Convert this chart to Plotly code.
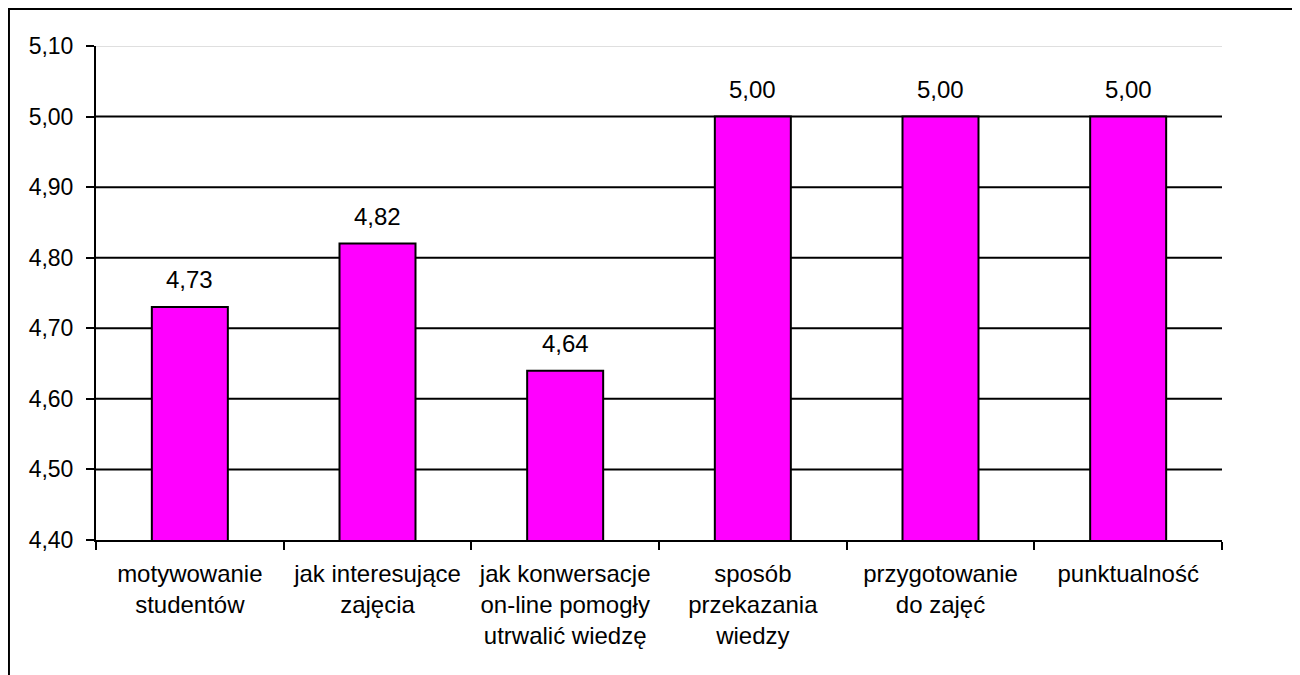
import plotly.graph_objects as go

categories = [
    "motywowanie<br>studentów",
    "jak interesujące<br>zajęcia",
    "jak konwersacje<br>on-line pomogły<br>utrwalić wiedzę",
    "sposób<br>przekazania<br>wiedzy",
    "przygotowanie<br>do zajęć",
    "punktualność",
]
values = [4.73, 4.82, 4.64, 5.00, 5.00, 5.00]
y_ticks = [4.40, 4.50, 4.60, 4.70, 4.80, 4.90, 5.00, 5.10]

FONT = "Liberation Sans, Arial, sans-serif"
FS = 24

fig = go.Figure()
fig.add_trace(go.Bar(
    x=categories,
    y=values,
    marker=dict(color="#FF00FF", line=dict(color="black", width=2)),
    width=0.405,
    hoverinfo="skip",
))

annotations = []
for c, v in zip(categories, values):
    annotations.append(dict(
        x=c, y=v, xref="x", yref="y",
        text=f"{v:.2f}".replace(".", ","),
        showarrow=False, yanchor="bottom", yshift=12,
        font=dict(family=FONT, size=FS, color="black"),
    ))

shapes = []
# gridlines
for t in y_ticks[1:-1]:
    shapes.append(dict(type="line", xref="paper", yref="y", x0=0, x1=1, y0=t, y1=t,
                       line=dict(color="black", width=2), layer="below"))
shapes.append(dict(type="line", xref="paper", yref="y", x0=0, x1=1, y0=y_ticks[-1], y1=y_ticks[-1],
                   line=dict(color="#C0C0C0", width=1), layer="below"))
# outer frame
shapes.append(dict(type="rect", xref="paper", yref="paper",
                   x0=-0.0773, x1=1.0666, y0=-0.35, y1=1.0749,
                   line=dict(color="black", width=2), layer="above"))
shapes.append(dict(type="line", xref="paper", yref="paper",
                   x0=1.0680, x1=1.0680, y0=-0.35, y1=1.072,
                   line=dict(color="black", width=2), layer="above"))

fig.update_layout(
    width=1300, height=675,
    margin=dict(l=88, r=86, t=38, b=143),
    paper_bgcolor="white", plot_bgcolor="white",
    separators=", ",
    showlegend=False,
    bargap=0.6,
    font=dict(family=FONT, size=FS, color="black"),
    annotations=annotations,
    shapes=shapes,
    xaxis=dict(
        showline=True, linecolor="black", linewidth=2,
        ticks="outside", ticklen=8, tickwidth=2, tickcolor="black",
        tickson="boundaries", showgrid=False,
        tickfont=dict(family=FONT, size=FS, color="black"),
        ticklabelstandoff=11,
    ),
    yaxis=dict(
        range=[4.40, 5.10], tickvals=y_ticks, tickformat=".2f",
        showline=True, linecolor="black", linewidth=2,
        ticks="outside", ticklen=8, tickwidth=2, tickcolor="black",
        showgrid=False, zeroline=False,
        tickfont=dict(family=FONT, size=23, color="black"),
        ticklabelstandoff=8,
    ),
)

fig.write_html("out.html")
